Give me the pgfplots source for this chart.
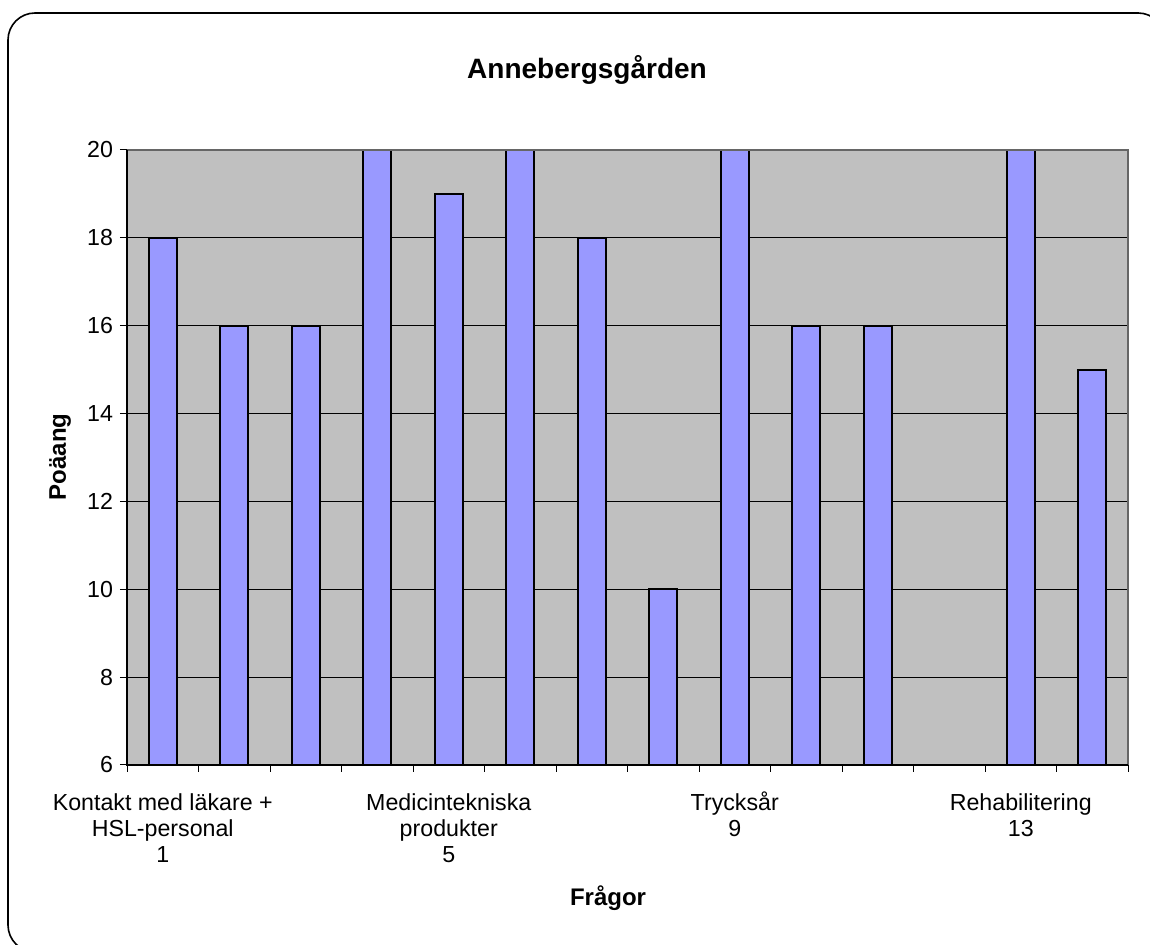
\documentclass[border=0pt]{standalone}
\usepackage{pgfplots}
\pgfplotsset{compat=1.18}
\usepackage{fontspec}
\setmainfont{Liberation Sans}
\definecolor{barfill}{HTML}{9999FF}
\definecolor{plotbg}{HTML}{C0C0C0}
\newcommand{\hs}{\rule{0pt}{11pt}}
\begin{document}
\begin{tikzpicture}
\useasboundingbox (0,0) rectangle (575pt,472.5pt);
\begin{scope}
\clip (0,0) rectangle (575pt,472.5pt);
\draw[rounded corners=13.5pt, line width=0.8pt] (4pt,-3.5pt) rectangle (582.5pt,466pt);
\end{scope}
\begin{axis}[
  at={(63.5pt,90pt)}, anchor=south west,
  scale only axis, width=500.5pt, height=307.5pt,
  xmin=0.5, xmax=14.5, ymin=6, ymax=20,
  ytick={6,8,...,20},
  xtick={0.5,1.5,...,14.5},
  xticklabels={},
  extra x ticks={1,5,9,13},
  extra x tick labels={\hs Kontakt med läkare +\\HSL-personal\\1, \hs Medicintekniska\\produkter\\5, \hs Trycksår\\9, \hs Rehabilitering\\13},
  extra x tick style={major tick length=0pt, grid=none,
     xticklabel style={align=center, anchor=north, font=\fontsize{11.6}{13.1}\selectfont, yshift=-8pt}},
  tick align=outside,
  major tick length=3.5pt,
  tick style={black, line width=0.5pt},
  xtick pos=bottom, ytick pos=left,
  ymajorgrids, grid style={black, line width=0.5pt},
  axis background/.style={fill=plotbg},
  axis line style={draw=none},
  /pgf/number format/assume math mode=true,
  yticklabel style={font=\fontsize{11.6}{12.8}\selectfont},
  clip=false,
]
\addplot[ybar, bar width=0.39, fill=barfill, draw=black, line width=1pt, bar shift=0pt]
  coordinates {(1,18) (2,16) (3,16) (4,20) (5,19) (6,20) (7,18) (8,10) (9,20) (10,16) (11,16) (13,20) (14,15)};
\draw[gray!80!black, line width=0.6pt] (rel axis cs:0,1) -- (rel axis cs:1,1) -- (rel axis cs:1,0);
\draw[black, line width=0.6pt] (rel axis cs:0,1) -- (rel axis cs:0,0) -- (rel axis cs:1,0);
\end{axis}
\node[font=\bfseries\fontsize{14}{16}\selectfont] at (293.5pt,437.5pt) {Annebergsgården};
\node[font=\bfseries\fontsize{12}{14}\selectfont] at (304pt,23.5pt) {Frågor};
\node[font=\bfseries\fontsize{12}{14}\selectfont, rotate=90] at (30pt,244pt) {Poäang};
\end{tikzpicture}
\end{document}
